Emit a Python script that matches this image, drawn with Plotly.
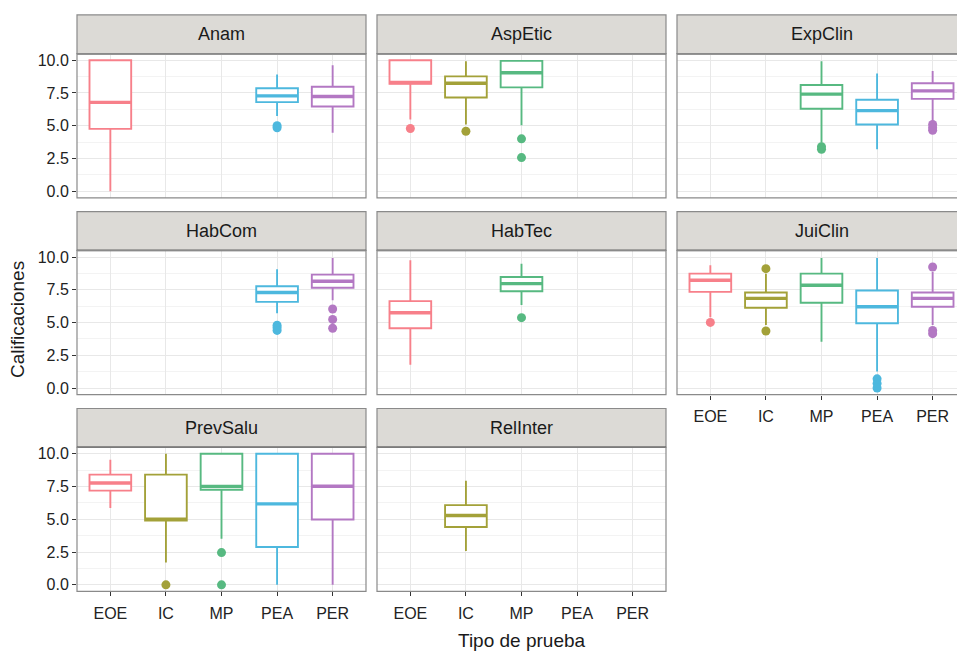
import plotly.graph_objects as go

# ---------------- data ----------------
FACETS = ["Anam", "AspEtic", "ExpClin", "HabCom", "HabTec", "JuiClin", "PrevSalu", "RelInter"]
CATS = ["EOE", "IC", "MP", "PEA", "PER"]
CAT_COLORS = ["#F7808A", "#A3A139", "#57B981", "#4DB8DE", "#B378C3"]

box_facet = ["Anam", "Anam", "Anam",
             "AspEtic", "AspEtic", "AspEtic",
             "ExpClin", "ExpClin", "ExpClin",
             "HabCom", "HabCom",
             "HabTec", "HabTec",
             "JuiClin", "JuiClin", "JuiClin", "JuiClin", "JuiClin",
             "PrevSalu", "PrevSalu", "PrevSalu", "PrevSalu", "PrevSalu",
             "RelInter"]
box_cat = ["EOE", "PEA", "PER",
           "EOE", "IC", "MP",
           "MP", "PEA", "PER",
           "PEA", "PER",
           "EOE", "MP",
           "EOE", "IC", "MP", "PEA", "PER",
           "EOE", "IC", "MP", "PEA", "PER",
           "IC"]
box_lo = [0.00, 5.75, 4.46,
          5.47, 5.09, 5.04,
          3.70, 3.20, 5.34,
          5.70, 6.70,
          1.77, 6.33,
          5.40, 4.81, 3.54, 1.27, 4.81,
          5.87, 1.70, 3.52, 0.00, 0.00,
          2.58]
box_q1 = [4.76, 6.80, 6.47,
          8.20, 7.15, 7.93,
          6.30, 5.09, 7.05,
          6.58, 7.65,
          4.56, 7.39,
          7.34, 6.13, 6.51, 4.94, 6.20,
          7.19, 4.90, 7.25, 2.89, 4.99,
          4.41]
box_med = [6.78, 7.28, 7.23,
           8.30, 8.24, 9.04,
           7.41, 6.15, 7.66,
           7.29, 8.15,
           5.75, 7.97,
           8.23, 6.84, 7.85, 6.20, 6.84,
           7.77, 5.00, 7.50, 6.18, 7.52,
           5.29]
box_q3 = [10.00, 7.86, 7.98,
          10.00, 8.77, 9.95,
          8.11, 6.98, 8.24,
          7.77, 8.66,
          6.63, 8.48,
          8.73, 7.29, 8.73, 7.44, 7.29,
          8.41, 8.41, 10.00, 10.00, 10.00,
          6.08]
box_hi = [10.00, 8.92, 9.62,
          10.00, 9.92, 10.00,
          9.92, 8.99, 9.17,
          9.06, 9.92,
          9.75, 9.49,
          9.37, 8.73, 9.92, 9.92, 8.86,
          9.54, 10.00, 10.00, 10.00, 10.00,
          7.95]

out_facet = ["Anam", "Anam",
             "AspEtic", "AspEtic", "AspEtic", "AspEtic",
             "ExpClin", "ExpClin", "ExpClin", "ExpClin", "ExpClin",
             "HabCom", "HabCom", "HabCom", "HabCom", "HabCom", "HabCom",
             "HabTec",
             "JuiClin", "JuiClin", "JuiClin", "JuiClin", "JuiClin", "JuiClin",
             "JuiClin", "JuiClin", "JuiClin",
             "PrevSalu", "PrevSalu", "PrevSalu"]
out_cat = ["PEA", "PEA",
           "EOE", "IC", "MP", "MP",
           "MP", "MP", "PER", "PER", "PER",
           "PEA", "PEA", "PEA", "PER", "PER", "PER",
           "MP",
           "EOE", "IC", "IC", "PEA", "PEA", "PEA",
           "PER", "PER", "PER",
           "IC", "MP", "MP"]
out_val = [5.00, 4.85,
           4.79, 4.58, 4.00, 2.57,
           3.40, 3.20, 5.10, 4.85, 4.65,
           4.80, 4.60, 4.40, 6.03, 5.24, 4.56,
           5.37,
           5.01, 9.11, 4.35, 0.70, 0.35, 0.00,
           9.24, 4.40, 4.15,
           0.00, 2.46, 0.00]

Y_TICKS = [0, 2.5, 5, 7.5, 10]
Y_TICK_LABELS = ["0.0", "2.5", "5.0", "7.5", "10.0"]
Y_MINOR = [1.25, 3.75, 6.25, 8.75]
X_TITLE = "Tipo de prueba"
Y_TITLE = "Calificaciones"

# ---------------- geometry (pixels) ----------------
W, H = 957, 652
COL_X = [(77, 366), (377, 666), (677, 966)]
ROW_Y = [(52, 197), (250, 395), (448, 593)]
STRIP_H = 39
X_RANGE = (-0.6, 4.6)
Y_RANGE = (-0.5, 10.5)

FONT = "Liberation Sans, Arial, Helvetica, sans-serif"
GRID = "#E8E8E8"
GRID_MINOR = "#F3F3F3"
BORDER = "#8A8A8A"

fig = go.Figure()
layout = dict(width=W, height=H, margin=dict(l=0, r=0, t=0, b=0),
              paper_bgcolor="white", plot_bgcolor="white",
              showlegend=False, boxmode="overlay",
              font=dict(family=FONT, color="#222222"))
shapes = []
annotations = []

n = len(FACETS)
ncol = 3
for i, name in enumerate(FACETS):
    r, c = divmod(i, ncol)
    sx = "" if i == 0 else str(i + 1)
    px0, px1 = COL_X[c]
    py0, py1 = ROW_Y[r]
    unit = (px1 - px0) / (X_RANGE[1] - X_RANGE[0])
    vis_x1 = min(px1, W)
    xr = (X_RANGE[0], X_RANGE[0] + (vis_x1 - px0) / unit)
    below = i + ncol
    show_x = below >= n
    show_y = c == 0
    layout["xaxis" + sx] = dict(
        domain=[px0 / W, vis_x1 / W], range=list(xr), anchor="y" + sx,
        tickmode="array", tickvals=list(range(len(CATS))), ticktext=CATS,
        showticklabels=show_x, ticks="outside" if show_x else "",
        ticklen=4, tickwidth=1.2, tickcolor="#333333", ticklabelstandoff=3,
        tickfont=dict(size=16, color="#222222", family=FONT),
        showgrid=True, gridcolor=GRID, gridwidth=1.3, zeroline=False,
        showline=False, fixedrange=True)
    layout["yaxis" + sx] = dict(
        domain=[1 - py1 / H, 1 - py0 / H], range=list(Y_RANGE), anchor="x" + sx,
        tickmode="array", tickvals=Y_TICKS, ticktext=Y_TICK_LABELS,
        showticklabels=show_y, ticks="outside" if show_y else "",
        ticklen=4, tickwidth=1.2, tickcolor="#333333",
        tickfont=dict(size=16, color="#222222", family=FONT),
        showgrid=True, gridcolor=GRID, gridwidth=1.3, zeroline=False,
        minor=dict(tickmode="array", tickvals=Y_MINOR, showgrid=True,
                   gridcolor=GRID_MINOR, gridwidth=1, ticks=""),
        showline=False, fixedrange=True)
    # strip
    shapes.append(dict(type="rect", xref="paper", yref="paper",
                       x0=px0 / W, x1=px1 / W,
                       y0=1 - py0 / H, y1=1 - (py0 - STRIP_H) / H,
                       fillcolor="#DCDAD6", line=dict(color=BORDER, width=1.2),
                       layer="below"))
    shapes.append(dict(type="line", xref="paper", yref="paper",
                       x0=px0 / W, x1=px1 / W,
                       y0=1 - py0 / H, y1=1 - py0 / H,
                       line=dict(color="#4D4D4D", width=1.6), layer="above"))
    # panel border
    shapes.append(dict(type="rect", xref="paper", yref="paper",
                       x0=px0 / W, x1=px1 / W,
                       y0=1 - py1 / H, y1=1 - py0 / H,
                       fillcolor="rgba(0,0,0,0)", line=dict(color=BORDER, width=1.2),
                       layer="above"))
    annotations.append(dict(text=name, xref="paper", yref="paper",
                            x=(px0 + px1) / 2 / W, y=1 - (py0 - STRIP_H / 2) / H,
                            xanchor="center", yanchor="middle", showarrow=False,
                            font=dict(size=18, color="#1A1A1A", family=FONT)))

# boxes
for k in range(len(box_facet)):
    fi = FACETS.index(box_facet[k])
    ci = CATS.index(box_cat[k])
    sx = "" if fi == 0 else str(fi + 1)
    col = CAT_COLORS[ci]
    fig.add_trace(go.Box(
        x=[ci], q1=[box_q1[k]], median=[box_med[k]], q3=[box_q3[k]],
        lowerfence=[box_lo[k]], upperfence=[box_hi[k]],
        width=0.75, whiskerwidth=0, fillcolor="white",
        line=dict(color=col, width=1.9), boxpoints=False,
        xaxis="x" + sx, yaxis="y" + sx, hoverinfo="skip", showlegend=False))
    # thicker median line (ggplot style)
    m = box_med[k]
    fig.add_trace(go.Box(
        x=[ci], q1=[m], median=[m], q3=[m], lowerfence=[m], upperfence=[m],
        width=0.75, whiskerwidth=0, fillcolor="rgba(0,0,0,0)",
        line=dict(color=col, width=3.4), boxpoints=False,
        xaxis="x" + sx, yaxis="y" + sx, hoverinfo="skip", showlegend=False))

# outliers
for fi, name in enumerate(FACETS):
    sx = "" if fi == 0 else str(fi + 1)
    for ci, cat in enumerate(CATS):
        ys = [v for f, cc, v in zip(out_facet, out_cat, out_val) if f == name and cc == cat]
        if ys:
            fig.add_trace(go.Scatter(
                x=[ci] * len(ys), y=ys, mode="markers",
                marker=dict(size=9, color=CAT_COLORS[ci], line=dict(width=0)),
                xaxis="x" + sx, yaxis="y" + sx, hoverinfo="skip", showlegend=False))

# axis titles
panel_left = COL_X[0][0]
panel_right = COL_X[-1][1]
annotations.append(dict(text=X_TITLE, xref="paper", yref="paper",
                        x=(panel_left + panel_right) / 2 / W, y=1 - 642 / H,
                        xanchor="center", yanchor="middle", showarrow=False,
                        font=dict(size=19, color="#1A1A1A", family=FONT)))
annotations.append(dict(text=Y_TITLE, xref="paper", yref="paper",
                        x=17 / W, y=1 - 320 / H, textangle=-90,
                        xanchor="center", yanchor="middle", showarrow=False,
                        font=dict(size=19, color="#1A1A1A", family=FONT)))

layout["shapes"] = shapes
layout["annotations"] = annotations
fig.update_layout(**layout)
fig.write_html("out.html", config={"displayModeBar": False},
               post_script="document.body.style.margin='0px';document.body.style.overflow='hidden';")
